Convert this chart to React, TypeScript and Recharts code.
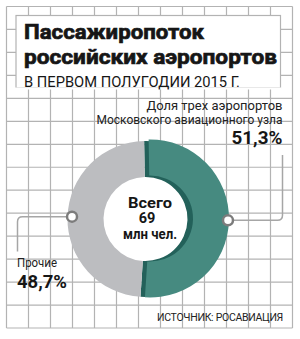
import { PieChart, Pie, Cell } from 'recharts'

const sliceNames = ['Доля трех аэропортов Московского авиационного узла', 'Прочие']
const sliceShares = [51.3, 48.7]
const sliceColors = ['#468a80', '#bcbdc0']
const sliceShadeColors = ['#23615a', '#bcbdc0']
const rightLabelLines = ['Доля трех аэропортов', 'Московского авиационного узла']
const leftLabelLines = ['Прочие']
const centerLines = ['Всего', '69', 'млн чел.']
const titleLines = ['Пассажиропоток', 'российских аэропортов']
const subtitle = 'В ПЕРВОМ ПОЛУГОДИИ 2015 Г.'
const source = 'ИСТОЧНИК: РОСАВИАЦИЯ'

const data = sliceNames.map((name, i) => ({ name, value: sliceShares[i] }))

const W = 300
const H = 339
const GRID = '#b3b3b3'
const LINE = '#a6a6a6'
const INK = '#161616'
const FONT = 'Roboto, "DejaVu Sans", sans-serif'
const RAD = Math.PI / 180

const fmt = (v: number) => `${v.toFixed(1).replace('.', ',')}%`

function Background() {
  const cols = 13
  const rows = 14
  const x0 = 6.5
  const x1 = 292.5
  const y0 = 6.5
  const y1 = 328
  const dx = (x1 - x0) / cols
  const dy = (y1 - y0) / rows
  return (
    <svg width={W} height={H} style={{ position: 'absolute', left: 0, top: 0 }}>
      <rect x={0} y={0} width={W} height={H} fill="#fff" />
      {Array.from({ length: cols + 1 }, (_, i) => (
        <line key={'v' + i} x1={x0 + i * dx} x2={x0 + i * dx} y1={y0} y2={y1} stroke={GRID} strokeWidth={1.2} />
      ))}
      {Array.from({ length: rows + 1 }, (_, i) => (
        <line key={'h' + i} x1={x0} x2={x1} y1={y0 + i * dy} y2={y0 + i * dy} stroke={GRID} strokeWidth={1.2} />
      ))}
      <rect x={16} y={15.5} width={264.5} height={72.5} fill="#fff" stroke={GRID} strokeWidth={1.2} />
      <rect x={15} y={87.5} width={266.5} height={2} fill="#fff" />
      <circle cx={148} cy={219} r={45} fill="#fff" />
    </svg>
  )
}

function Texts() {
  return (
    <svg width={W} height={H} style={{ position: 'absolute', left: 0, top: 0 }} fontFamily={FONT}>
      <text x={24} y={39} fontSize={21} fontWeight={700} fill={INK} stroke={INK} strokeWidth={0.7} textLength={180} lengthAdjust="spacingAndGlyphs">
        {titleLines[0]}
      </text>
      <text x={24} y={63.5} fontSize={21} fontWeight={700} fill={INK} stroke={INK} strokeWidth={0.7} textLength={253} lengthAdjust="spacingAndGlyphs">
        {titleLines[1]}
      </text>
      <text x={24} y={87} fontSize={15} fill={INK} textLength={216} lengthAdjust="spacingAndGlyphs">
        {subtitle}
      </text>

      <text x={282.5} y={110} fontSize={13} fill="#222" textAnchor="end" textLength={136} lengthAdjust="spacingAndGlyphs">
        {rightLabelLines[0]}
      </text>
      <text x={282.5} y={123.5} fontSize={13} fill="#222" textAnchor="end" textLength={186} lengthAdjust="spacingAndGlyphs">
        {rightLabelLines[1]}
      </text>
      <text x={282.5} y={144} fontSize={18} fontWeight={700} fill={INK} textAnchor="end" textLength={51} lengthAdjust="spacingAndGlyphs">
        {fmt(sliceShares[0])}
      </text>

      <text x={17} y={267} fontSize={13} fill="#222" textLength={40} lengthAdjust="spacingAndGlyphs">
        {leftLabelLines[0]}
      </text>
      <text x={17} y={288} fontSize={18} fontWeight={700} fill={INK} textLength={50} lengthAdjust="spacingAndGlyphs">
        {fmt(sliceShares[1])}
      </text>

      <text x={150} y={207.5} fontSize={14.5} fontWeight={700} fill={INK} textAnchor="middle" textLength={44} lengthAdjust="spacingAndGlyphs">
        {centerLines[0]}
      </text>
      <text x={147} y={223} fontSize={14.5} fontWeight={700} fill={INK} textAnchor="middle">
        {centerLines[1]}
      </text>
      <text x={150} y={238.5} fontSize={14.5} fontWeight={700} fill={INK} textAnchor="middle" textLength={54} lengthAdjust="spacingAndGlyphs">
        {centerLines[2]}
      </text>

      <text x={283} y={320.5} fontSize={10.5} letterSpacing={-0.3} fill="#222" textAnchor="end">
        {source}
      </text>
    </svg>
  )
}

// marker circle on the ring + rounded leader line to the label
function renderMarker(props: any) {
  const { cx, cy, midAngle, outerRadius, index } = props
  const r = outerRadius - 1
  const x = cx + r * Math.cos(-midAngle * RAD)
  const y = cy + r * Math.sin(-midAngle * RAD)
  const c = 5
  let d = ''
  if (index === 0) {
    const ax = 282.5
    d = `M${x},${y} H${ax - c} Q${ax},${y} ${ax},${y - c} V155`
  } else {
    const ax = 17.5
    d = `M${x},${y} H${ax + c} Q${ax},${y} ${ax},${y + c} V251.5`
  }
  return (
    <g key={'m' + index}>
      <path d={d} fill="none" stroke={LINE} strokeWidth={1.5} />
      <circle cx={x} cy={y} r={5} fill="#fff" stroke="#7c7c7c" strokeWidth={2.5} />
    </g>
  )
}

export default function App() {
  return (
    <div style={{ position: 'absolute', left: 0, top: 0, width: W, height: H }}>
      <Background />
      <Texts />
      <div style={{ position: 'absolute', left: 0, top: 0 }}>
        <PieChart width={W} height={H} margin={{ top: 0, right: 0, bottom: 0, left: 0 }}>
          <Pie
            data={data}
            dataKey="value"
            nameKey="name"
            cx={145.5}
            cy={219}
            innerRadius={42}
            outerRadius={78}
            startAngle={91}
            endAngle={-269}
            stroke="none"
            isAnimationActive={false}
          >
            {data.map((_, i) => (
              <Cell key={i} fill={sliceShadeColors[i]} />
            ))}
          </Pie>
          <Pie
            data={data}
            dataKey="value"
            nameKey="name"
            cx={150}
            cy={218.5}
            innerRadius={43}
            outerRadius={79}
            startAngle={91}
            endAngle={-269}
            stroke="none"
            label={renderMarker}
            labelLine={false}
            isAnimationActive={false}
          >
            {data.map((_, i) => (
              <Cell key={i} fill={i === 0 ? sliceColors[0] : 'transparent'} />
            ))}
          </Pie>
        </PieChart>
      </div>
    </div>
  )
}
